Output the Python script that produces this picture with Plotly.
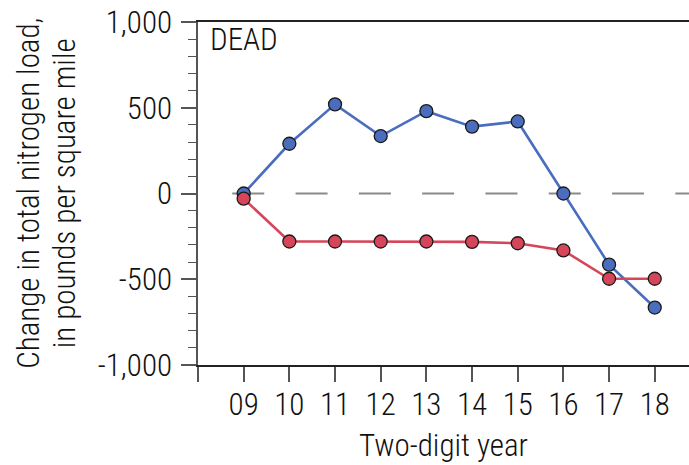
import plotly.graph_objects as go

# Two-digit water years and change in total nitrogen load (lb/mi^2)
years = ["09", "10", "11", "12", "13", "14", "15", "16", "17", "18"]
blue_series = [0, 290, 520, 335, 480, 390, 420, 0, -415, -665]
red_series = [-30, -280, -280, -280, -280, -282, -290, -332, -497, -497]

y_tick_vals = [-1000, -500, 0, 500, 1000]
y_tick_text = ["-1,000", "-500", "0", "500", "1,000"]
y_title_lines = ["Change in total nitrogen load,", "in pounds per square mile"]

FONT = "Roboto Condensed, Liberation Sans Narrow, sans-serif"
FS = 31
FW = 300
BLUE = "#4a6dbd"
RED = "#d6465a"

xpos = list(range(len(years)))

fig = go.Figure()

# dashed zero reference line
fig.add_shape(type="line", xref="x", yref="y", x0=-0.25, x1=9.75, y0=0, y1=0,
              line=dict(color="#8a8a8a", width=2, dash="32px,31.3px"), layer="below")

fig.add_trace(go.Scatter(
    x=xpos, y=blue_series, mode="lines+markers",
    line=dict(color=BLUE, width=2.6),
    marker=dict(size=13, color=BLUE, line=dict(color="#1a1a1a", width=1.3)),
    showlegend=False, cliponaxis=False,
))
fig.add_trace(go.Scatter(
    x=xpos, y=red_series, mode="lines+markers",
    line=dict(color=RED, width=2.6),
    marker=dict(size=13, color=RED, line=dict(color="#1a1a1a", width=1.3)),
    showlegend=False, cliponaxis=False,
))

# rotated two-line y-axis title, one annotation per line for tighter leading
title_anns = [
    dict(text=line, xref="paper", yref="paper", x=xp, y=0.5, xanchor="center", yanchor="middle",
         textangle=-90, showarrow=False, font=dict(family=FONT, size=FS, weight=FW))
    for line, xp in zip(y_title_lines, [-0.3458, -0.2712])
]

fig.update_layout(
    width=689, height=465,
    margin=dict(l=198, r=0, t=22, b=100),
    paper_bgcolor="white", plot_bgcolor="white",
    font=dict(family=FONT, size=FS, color="#111", weight=FW),
    xaxis=dict(
        range=[-1, 9.75], showgrid=False, zeroline=False,
        tickmode="array", tickvals=[-1] + xpos, ticktext=[""] + years,
        ticks="outside", ticklen=15, tickwidth=1.5, tickcolor="#555",
        showline=True, linecolor="#222", linewidth=1.5, mirror=True,
        ticklabelstandoff=-4,
        tickfont=dict(family=FONT, size=FS, weight=FW),
        title=dict(text="Two-digit year", font=dict(family=FONT, size=FS, weight=FW), standoff=12),
    ),
    yaxis=dict(
        range=[-1000, 1000], showgrid=False, zeroline=False,
        tickmode="array", tickvals=y_tick_vals, ticktext=y_tick_text,
        ticks="outside", ticklen=15, tickwidth=1.5, tickcolor="#555",
        minor=dict(dtick=100, ticks="outside", ticklen=8, tickwidth=1.2, tickcolor="#555"),
        showline=True, linecolor="#555", linewidth=1.5,
        ticklabelstandoff=3,
        tickfont=dict(family=FONT, size=FS, weight=FW),
    ),
    annotations=title_anns + [
        dict(text="DEAD", xref="paper", yref="paper", x=0.02, y=1.01,
             xanchor="left", yanchor="top", showarrow=False, font=dict(family=FONT, size=FS, weight=FW)),
    ],
)

fig.write_html("out.html")
